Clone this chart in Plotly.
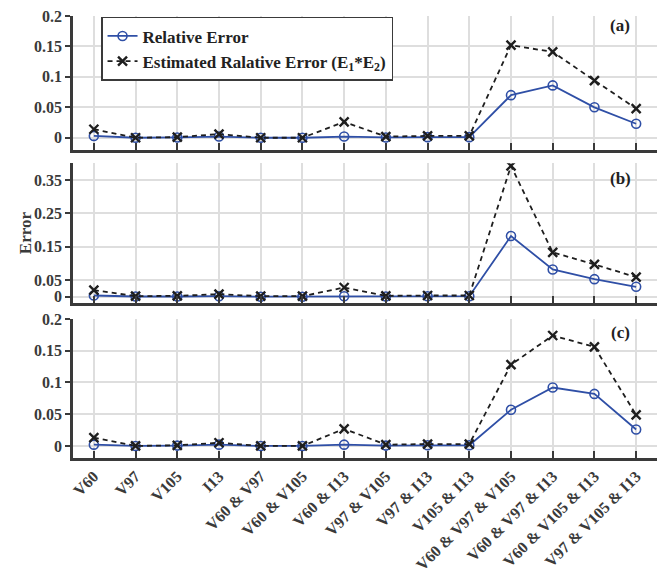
import plotly.graph_objects as go

categories = ["V60", "V97", "V105", "I13", "V60 & V97", "V60 & V105", "V60 & I13",
              "V97 & V105", "V97 & I13", "V105 & I13", "V60 & V97 & V105",
              "V60 & V97 & I13", "V60 & V105 & I13", "V97 & V105 & I13"]

rel_a = [0.003, 0.0, 0.0005, 0.002, 0.0, 0.0, 0.002, 0.0005, 0.001, 0.001, 0.070, 0.086, 0.050, 0.023]
est_a = [0.014, 0.0, 0.001, 0.006, 0.0, 0.0, 0.026, 0.002, 0.003, 0.003, 0.152, 0.141, 0.094, 0.048]

rel_b = [0.004, 0.001, 0.001, 0.002, 0.0005, 0.0005, 0.002, 0.001, 0.002, 0.002, 0.182, 0.082, 0.053, 0.030]
est_b = [0.020, 0.002, 0.003, 0.008, 0.002, 0.002, 0.028, 0.003, 0.004, 0.004, 0.392, 0.133, 0.097, 0.059]

rel_c = [0.002, 0.0, 0.0005, 0.002, 0.0, 0.0, 0.002, 0.0005, 0.001, 0.001, 0.057, 0.092, 0.082, 0.026]
est_c = [0.013, 0.0, 0.001, 0.005, 0.0, 0.0, 0.027, 0.002, 0.003, 0.003, 0.128, 0.174, 0.156, 0.049]

yticks_a = [0, 0.05, 0.1, 0.15, 0.2]
ytext_a = ["0", "0.05", "0.1", "0.15", "0.2"]
yticks_b = [0, 0.05, 0.15, 0.25, 0.35]
ytext_b = ["0", "0.05", "0.15", "0.25", "0.35"]
panel_labels = ["(a)", "(b)", "(c)"]

BLUE = "#2f4fa6"
DARK = "#1e1e1e"
AXC = "#3a3a3a"
GRID = "#dedede"
FONT = "Liberation Serif"

x = list(range(len(categories)))
fig = go.Figure()

data = [(rel_a, est_a), (rel_b, est_b), (rel_c, est_c)]
for i, (r, e) in enumerate(data):
    suffix = "" if i == 0 else str(i + 1)
    fig.add_trace(go.Scatter(
        x=x, y=r, mode="lines+markers", name="Relative Error",
        xaxis="x" + suffix, yaxis="y" + suffix, showlegend=(i == 0),
        line=dict(color=BLUE, width=1.8),
        marker=dict(symbol="circle-open", size=9, color=BLUE, line=dict(width=1.6, color=BLUE)),
    ))
    fig.add_trace(go.Scatter(
        x=x, y=e, mode="lines+markers",
        name="Estimated Ralative Error (E<sub>1</sub>*E<sub>2</sub>)",
        xaxis="x" + suffix, yaxis="y" + suffix, showlegend=(i == 0),
        line=dict(color=DARK, width=1.8, dash="5px,4px"),
        marker=dict(symbol="x-thin-open", size=9, color=DARK, line=dict(width=2.4, color=DARK)),
    ))

def xax(domain_anchor, show_labels):
    d = dict(
        domain=[0, 1], anchor=domain_anchor, range=[-0.5, 13.5],
        tickmode="array", tickvals=x,
        showticklabels=show_labels, tickangle=-45, automargin=False,
        ticklabeloverflow="allow",
        showgrid=True, gridcolor=GRID, gridwidth=1.8,
        showline=True, linecolor=AXC, linewidth=2.5,
        ticks="inside", ticklen=7, tickwidth=1.5, tickcolor=AXC,
        zeroline=False,
        tickfont=dict(family=FONT, size=16, color=AXC, weight="bold"),
    )
    if show_labels:
        d["ticktext"] = categories
    return d

def yax(domain, rng, tv, tt, anchor):
    return dict(
        domain=domain, anchor=anchor, range=rng, automargin=False,
        ticklabeloverflow="allow",
        tickmode="array", tickvals=tv, ticktext=tt,
        showgrid=True, gridcolor=GRID, gridwidth=1.8,
        showline=True, linecolor=AXC, linewidth=2.5,
        ticks="outside", ticklen=5, tickwidth=1.5, tickcolor=AXC,
        zeroline=False,
        tickfont=dict(family=FONT, size=16, color=AXC, weight="bold"),
    )

fig.update_layout(
    width=670, height=587,
    margin=dict(l=65, r=21, t=8, b=137),
    paper_bgcolor="white", plot_bgcolor="white",
    font=dict(family=FONT, color=AXC),
    xaxis=xax("y", False),
    xaxis2=xax("y2", False),
    xaxis3=xax("y3", True),
    yaxis=yax([0.697, 1.0], [-0.02, 0.2], yticks_a, ytext_a, "x"),
    yaxis2=yax([0.351, 0.667], [-0.018, 0.40], yticks_b, ytext_b, "x2"),
    yaxis3=yax([0.0, 0.3145], [-0.019, 0.2], yticks_a, ytext_a, "x3"),
    legend=dict(
        x=0.048, y=0.998, xanchor="left", yanchor="top",
        bgcolor="white", bordercolor=AXC, borderwidth=1.5,
        font=dict(family=FONT, size=17, color="#222222", weight="bold"),
        tracegroupgap=0, itemwidth=30,
    ),
    showlegend=True,
)

for lab, yy in zip(panel_labels, [0.978, 0.633, 0.285]):
    fig.add_annotation(text=lab, x=0.937, y=yy, xref="paper", yref="paper",
                       xanchor="center", yanchor="middle",
                       showarrow=False, font=dict(family=FONT, size=17, color="#222222", weight="bold"))

fig.add_annotation(text="Error", x=-0.082, y=0.509, xref="paper", yref="paper",
                   xanchor="center", yanchor="middle",
                   textangle=-90, showarrow=False,
                   font=dict(family=FONT, size=17, color=AXC, weight="bold"))

fig.write_html("out.html")
